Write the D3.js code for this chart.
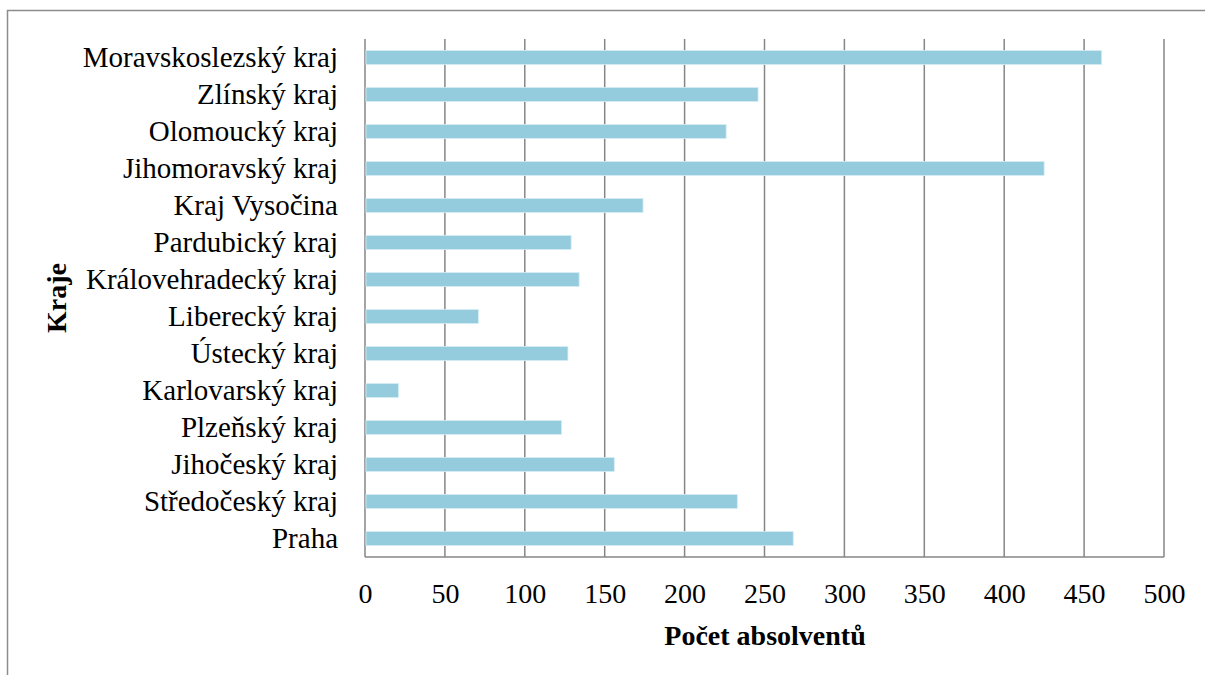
<!DOCTYPE html>
<html><head><meta charset="utf-8">
<script src="https://cdn.jsdelivr.net/npm/d3@7"></script>
<style>body{margin:0;background:#fff}svg{display:block}</style>
</head><body><svg id="c" width="1205" height="675"></svg>
<script>
const categories = ["Moravskoslezský kraj","Zlínský kraj","Olomoucký kraj","Jihomoravský kraj","Kraj Vysočina","Pardubický kraj","Královehradecký kraj","Liberecký kraj","Ústecký kraj","Karlovarský kraj","Plzeňský kraj","Jihočeský kraj","Středočeský kraj","Praha"];
const values = [461,246,226,425,174,129,134,71,127,21,123,156,233,268];
const xTicks = [0,50,100,150,200,250,300,350,400,450,500];
const xTitle = "Počet absolventů";
const yTitle = "Kraje";

const svg = d3.select("#c");
const font = "'Liberation Serif','Times New Roman',serif";
svg.append("rect").attr("x",7.5).attr("y",10.5).attr("width",1210).attr("height",680)
  .attr("fill","none").attr("stroke","#8c8c8c").attr("stroke-width",1.5);

const m = {l:365, r:1164, t:39, b:557};
const x = d3.scaleLinear().domain([0,500]).range([m.l,m.r]);
const y = d3.scaleBand().domain(categories).range([m.t,m.b]).paddingInner(0.62).paddingOuter(0.31);

svg.append("g").selectAll("line").data(xTicks).join("line")
  .attr("x1",d=>x(d)).attr("x2",d=>x(d)).attr("y1",m.t).attr("y2",m.b)
  .attr("stroke","#868686").attr("stroke-width",1.5);
svg.append("line").attr("x1",m.l).attr("x2",m.r).attr("y1",m.b).attr("y2",m.b)
  .attr("stroke","#868686").attr("stroke-width",1.5);

svg.append("g").selectAll("rect").data(values).join("rect")
  .attr("x",x(0)+1).attr("y",(d,i)=>y(categories[i]))
  .attr("width",d=>x(d)-x(0)-1).attr("height",y.bandwidth())
  .attr("fill","#94ccdd").attr("stroke","#d6eef5").attr("stroke-width",0.8);

const xAxis = svg.append("g").attr("transform",`translate(0,${m.b})`)
  .call(d3.axisBottom(x).tickValues(xTicks).tickSize(0).tickPadding(26));
xAxis.select(".domain").remove();
xAxis.selectAll("text").attr("font-family",font).attr("font-size",28).attr("fill","#000");

const yAxis = svg.append("g").attr("transform",`translate(${m.l},0)`)
  .call(d3.axisLeft(y).tickSize(0).tickPadding(27));
yAxis.select(".domain").remove();
yAxis.selectAll("text").attr("font-family",font).attr("font-size",29).attr("fill","#000");

svg.append("text").attr("x",765).attr("y",645).attr("text-anchor","middle")
  .attr("font-family",font).attr("font-size",28).attr("font-weight","bold").text(xTitle);
svg.append("text").attr("transform","translate(66,298) rotate(-90)").attr("text-anchor","middle")
  .attr("font-family",font).attr("font-size",28).attr("font-weight","bold").text(yTitle);
</script></body></html>
